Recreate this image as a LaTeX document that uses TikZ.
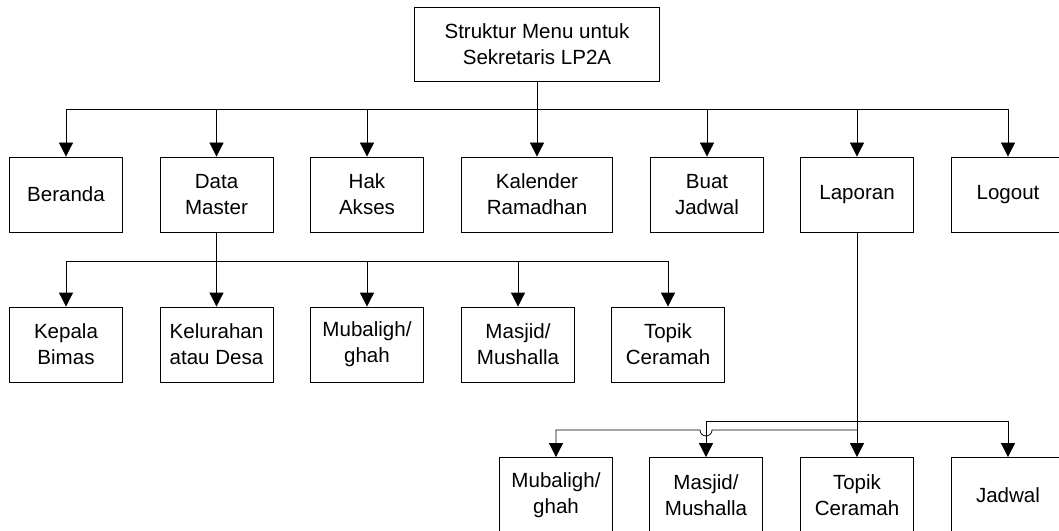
\documentclass[tikz,border=0pt]{standalone}
\usepackage{fontspec}
\setmainfont{Liberation Sans}
\usepackage{tikz}
\usetikzlibrary{arrows,arrows.meta}

\tikzset{
  menubox/.style={draw, line width=0.6pt, align=center, minimum width=84.75pt,
    minimum height=56.25pt, inner sep=2pt, font=\fontsize{15.4}{19.5}\selectfont},
  tree/.style={to path={-| (\tikztotarget)}},
}

\begin{document}
\begin{tikzpicture}[x=0.75pt, y=-0.75pt, line width=0.6pt, >={Triangle[width=10.5pt,length=10.5pt]}]
  \useasboundingbox (0,0) rectangle (1059,531);
  % root
  \node[menubox, minimum width=183.75pt, minimum height=55.5pt] (menu) at (537,44) {Struktur Menu untuk\\Sekretaris LP2A};
  % first level
  \node[menubox] (beranda) at (66,194.5) {Beranda};
  \node[menubox] (datamaster) at (216.5,194.5) {Data\\Master};
  \node[menubox] (hakakses) at (367,194.5) {Hak\\Akses};
  \node[menubox, minimum width=113.25pt] (kalender) at (537,194.5) {Kalender\\Ramadhan};
  \node[menubox] (buatjadwal) at (707,194.5) {Buat\\Jadwal};
  \node[menubox] (laporan) at (857,194.5) {Laporan};
  \node[menubox] (logout) at (1008,194.5) {Logout};
  % data master
  \node[menubox] (kepala) at (66,344.5) {Kepala\\Bimas};
  \node[menubox] (kelurahan) at (216.5,344.5) {Kelurahan\\atau Desa};
  \node[menubox] (mubaligh) at (367,344.5) {Mubaligh/\\ghah};
  \node[menubox] (masjid) at (518,344.5) {Masjid/\\Mushalla};
  \node[menubox] (topik) at (668,344.5) {Topik\\Ceramah};
  % laporan
  \node[menubox] (lapmubaligh) at (556,495) {Mubaligh/\\ghah};
  \node[menubox] (lapmasjid) at (706,495) {Masjid/\\Mushalla};
  \node[menubox] (laptopik) at (857,495) {Topik\\Ceramah};
  \node[menubox] (lapjadwal) at (1008,495) {Jadwal};

  \coordinate (hubmenu) at (537,109);
  \coordinate (hubdata) at (216.5,261);
  \coordinate (hublap) at (857,421.5);
  \coordinate (hublow) at (857,430);
  \coordinate (hopright) at (712,430);
  \coordinate (hopleft) at (700,430);

  \draw (menu) -- (hubmenu);
  \path[->]
  (hubmenu) edge[tree] (beranda)
            edge[tree] (datamaster)
            edge[tree] (hakakses)
            edge (kalender)
            edge[tree] (buatjadwal)
            edge[tree] (laporan)
            edge[tree] (logout)
  ;
  \draw (datamaster) -- (hubdata);
  \path[->]
  (hubdata) edge[tree] (kepala)
            edge (kelurahan)
            edge[tree] (mubaligh)
            edge[tree] (masjid)
            edge[tree] (topik)
  ;
  \path[->]
  (laporan) edge (laptopik)
  (hublap)  edge[tree] (lapmasjid)
            edge[tree] (lapjadwal)
  ;
  % line hop over the Masjid branch
  \draw[->] (hublow) -- (hopright) arc (0:180:6) -- (hopleft) -| (lapmubaligh);
\end{tikzpicture}
\end{document}
